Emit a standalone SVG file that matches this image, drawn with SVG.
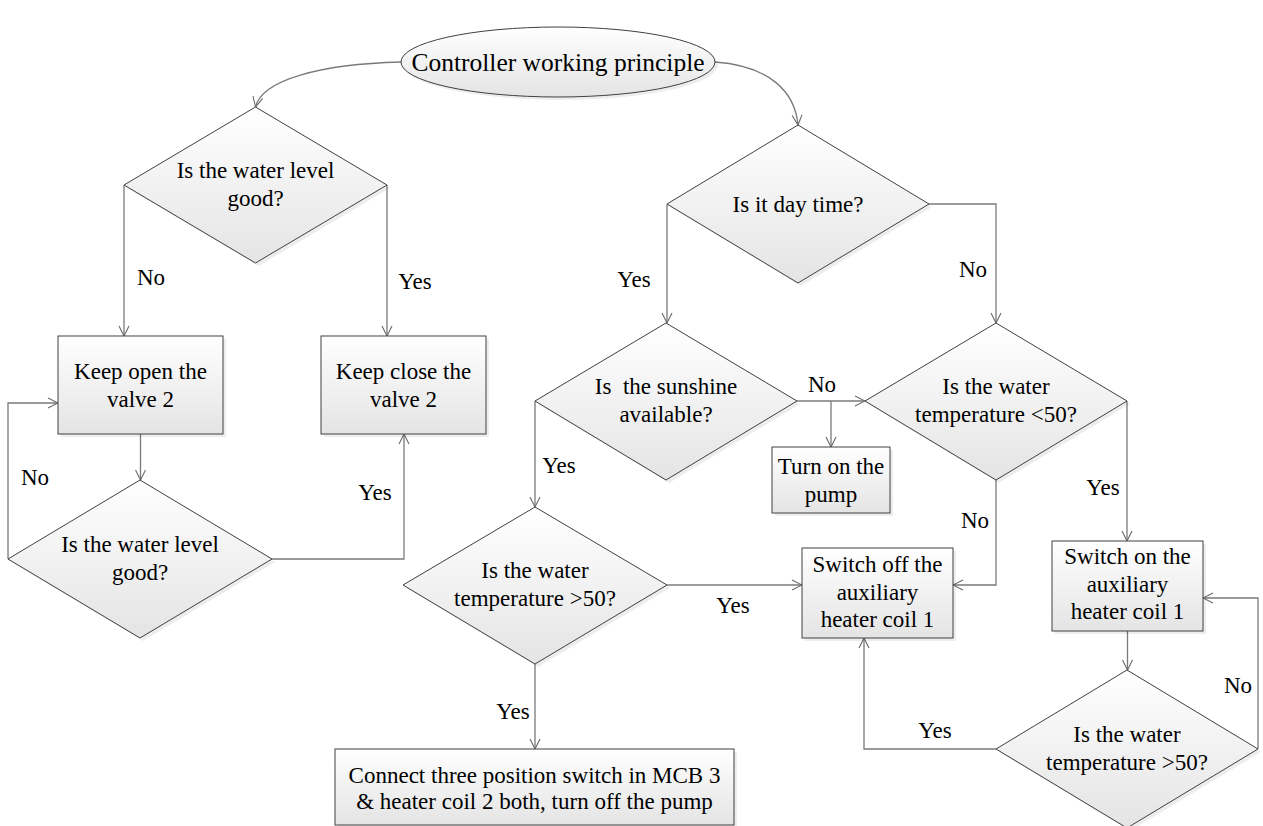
<svg xmlns="http://www.w3.org/2000/svg" width="1263" height="826" viewBox="0 0 1263 826">
<style>
  text { font-family: "Liberation Serif", "Times New Roman", "DejaVu Serif", serif; font-size: 23px; fill: #000; text-anchor: middle; }
  .n { fill: url(#g); stroke: #404040; stroke-width: 1; }
  .sh { fill: #000; opacity: 0.07; }
  .c { fill: none; stroke: #7a7a7a; stroke-width: 1.3; marker-end: url(#a); }
</style>
<defs>
  <linearGradient id="g" x1="0" y1="0" x2="0" y2="1">
    <stop offset="0" stop-color="#ffffff"/>
    <stop offset="1" stop-color="#e4e4e4"/>
  </linearGradient>
  <marker id="a" viewBox="0 0 12 12" refX="11" refY="6" markerWidth="12" markerHeight="12" markerUnits="userSpaceOnUse" orient="auto">
    <path d="M1,1 L11,6 L1,11" fill="none" stroke="#6a6a6a" stroke-width="1.1"/>
  </marker>
</defs>
<rect width="1263" height="826" fill="#ffffff"/>

<g id="connectors">
  <path class="c" d="M401,62 C320,64 262,80 255.5,107"/>
  <path class="c" d="M715,62 C770,66 795,92 798,125"/>
  <path class="c" d="M124,185 V336"/>
  <path class="c" d="M387,185 V336"/>
  <path class="c" d="M140.5,434 V480"/>
  <path class="c" d="M8,559 V403 H58"/>
  <path class="c" d="M272,559 H404 V434"/>
  <path class="c" d="M667,204 V323"/>
  <path class="c" d="M929,204 H996 V323"/>
  <path class="c" d="M797,401 H865"/>
  <path class="c" d="M831,401 V447"/>
  <path class="c" d="M535,401 V507"/>
  <path class="c" d="M1127,401 V541"/>
  <path class="c" d="M996,480 V585 H953"/>
  <path class="c" d="M667,585 H802"/>
  <path class="c" d="M535,664 V749"/>
  <path class="c" d="M1127.5,631 V670"/>
  <path class="c" d="M1258,749 V598 H1203"/>
  <path class="c" d="M996,749 H864 V638"/>
</g>

<g id="labels">
  <text x="151" y="285">No</text>
  <text x="415" y="289">Yes</text>
  <text x="35" y="485">No</text>
  <text x="375" y="500">Yes</text>
  <text x="634" y="287">Yes</text>
  <text x="973" y="277">No</text>
  <text x="822" y="392">No</text>
  <text x="559" y="473">Yes</text>
  <text x="1103" y="495">Yes</text>
  <text x="975" y="528">No</text>
  <text x="733" y="613">Yes</text>
  <text x="513" y="719">Yes</text>
  <text x="1238" y="693">No</text>
  <text x="935" y="738">Yes</text>
</g>

<g id="start">
  <ellipse class="sh" cx="561" cy="65" rx="157" ry="35"/>
  <ellipse class="n" cx="558" cy="62" rx="157" ry="35"/>
  <text x="558" y="71" style="font-size:25.5px">Controller working principle</text>
</g>

<g id="d1">
  <polygon class="sh" points="258.5,110 390,188 258.5,266 127,188"/>
  <polygon class="n" points="255.5,107 387,185 255.5,263 124,185"/>
  <text x="255.5" y="178">Is the water level</text>
  <text x="255.5" y="206">good?</text>
</g>

<g id="openValve">
  <rect class="sh" x="61" y="339" width="165" height="98"/>
  <rect class="n" x="58" y="336" width="165" height="98"/>
  <text x="140.5" y="379">Keep open the</text>
  <text x="140.5" y="407">valve 2</text>
</g>

<g id="closeValve">
  <rect class="sh" x="324" y="339" width="165" height="98"/>
  <rect class="n" x="321" y="336" width="165" height="98"/>
  <text x="403.5" y="379">Keep close the</text>
  <text x="403.5" y="407">valve 2</text>
</g>

<g id="d2">
  <polygon class="sh" points="143,483 275,562 143,641 11,562"/>
  <polygon class="n" points="140,480 272,559 140,638 8,559"/>
  <text x="140" y="552">Is the water level</text>
  <text x="140" y="580">good?</text>
</g>

<g id="d3">
  <polygon class="sh" points="801,128 932,207 801,286 670,207"/>
  <polygon class="n" points="798,125 929,204 798,283 667,204"/>
  <text x="798" y="212">Is it day time?</text>
</g>

<g id="d4">
  <polygon class="sh" points="669,326 800,404 669,483 538,404"/>
  <polygon class="n" points="666,323 797,401 666,480 535,401"/>
  <text x="666" y="394" xml:space="preserve">Is  the sunshine</text>
  <text x="666" y="422">available?</text>
</g>

<g id="d5">
  <polygon class="sh" points="999,326 1130,404 999,483 868,404"/>
  <polygon class="n" points="996,323 1127,401 996,480 865,401"/>
  <text x="996" y="394">Is the water</text>
  <text x="996" y="422">temperature &lt;50?</text>
</g>

<g id="pump">
  <rect class="sh" x="775" y="450" width="118" height="66"/>
  <rect class="n" x="772" y="447" width="118" height="66"/>
  <text x="831" y="474">Turn on the</text>
  <text x="831" y="502">pump</text>
</g>

<g id="d6">
  <polygon class="sh" points="538,510 670,588 538,667 406,588"/>
  <polygon class="n" points="535,507 667,585 535,664 403,585"/>
  <text x="535" y="578">Is the water</text>
  <text x="535" y="606">temperature &gt;50?</text>
</g>

<g id="switchOff">
  <rect class="sh" x="805" y="551" width="151" height="90"/>
  <rect class="n" x="802" y="548" width="151" height="90"/>
  <text x="877.5" y="572">Switch off the</text>
  <text x="877.5" y="600">auxiliary</text>
  <text x="877.5" y="627">heater coil 1</text>
</g>

<g id="switchOn">
  <rect class="sh" x="1055" y="544" width="151" height="90"/>
  <rect class="n" x="1052" y="541" width="151" height="90"/>
  <text x="1127.5" y="564">Switch on the</text>
  <text x="1127.5" y="592">auxiliary</text>
  <text x="1127.5" y="619">heater coil 1</text>
</g>

<g id="d7">
  <polygon class="sh" points="1130,673 1261,752 1130,831 999,752"/>
  <polygon class="n" points="1127,670 1258,749 1127,828 996,749"/>
  <text x="1127" y="742">Is the water</text>
  <text x="1127" y="770">temperature &gt;50?</text>
</g>

<g id="final">
  <rect class="sh" x="338" y="752" width="399" height="76"/>
  <rect class="n" x="335" y="749" width="399" height="76"/>
  <text x="534.5" y="783">Connect three position switch in MCB 3</text>
  <text x="534.5" y="809">&amp; heater coil 2 both, turn off the pump</text>
</g>
</svg>
